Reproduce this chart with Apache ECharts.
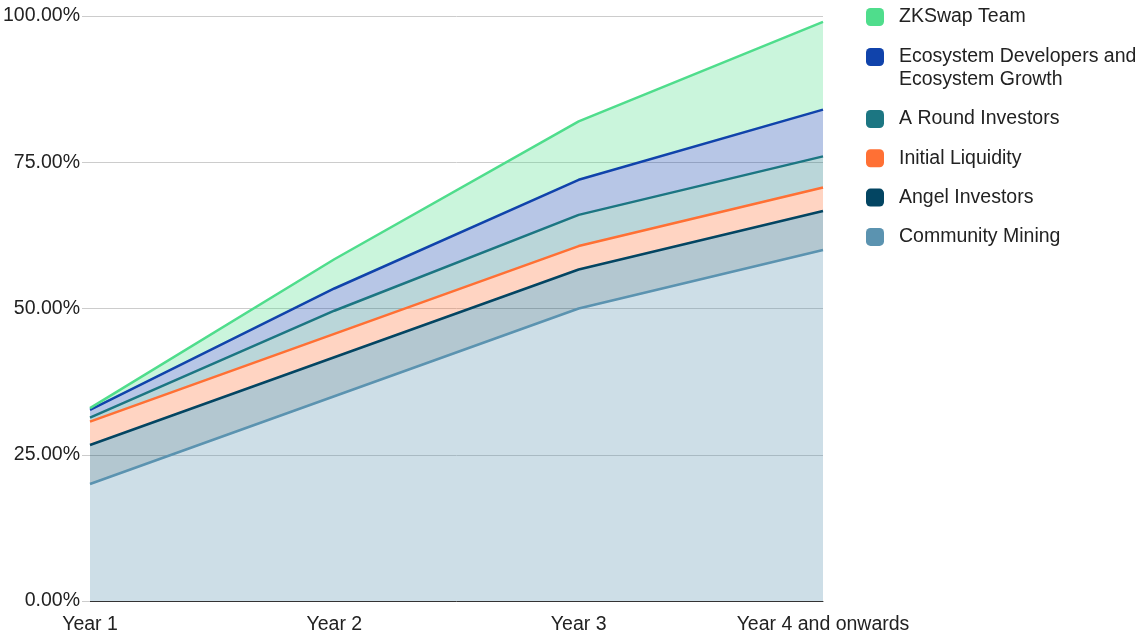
<!DOCTYPE html>
<html>
<head>
<meta charset="utf-8">
<script src="https://cdn.jsdelivr.net/npm/echarts@6/dist/echarts.min.js"></script>
<style>html,body{margin:0;padding:0;background:#fff}#c{width:1135px;height:630px}</style>
</head>
<body>
<div id="c"></div>
<script>
var categories = ['Year 1', 'Year 2', 'Year 3', 'Year 4 and onwards'];
var communityMining = [20, 35, 50, 60];
var angelInvestors = [6.67, 6.67, 6.67, 6.67];
var initialLiquidity = [4, 4, 4, 4];
var aRoundInvestors = [0.67, 3.95, 5.33, 5.33];
var ecosystem = [1.33, 3.8, 6, 8];
var zkswapTeam = [0.3, 5, 10, 15];
var yTicks = [0, 25, 50, 75, 100];

var ECO = 'Ecosystem Developers and Ecosystem Growth';
var font = 'Liberation Sans, Arial, sans-serif';
var FS = 19.5;

function mk(name, data, color) {
  return {
    name: name, type: 'line', stack: 'total', data: data,
    showSymbol: false, symbol: 'none',
    lineStyle: { color: color, width: 2.5 },
    itemStyle: { color: color },
    areaStyle: { color: color, opacity: 0.3 }
  };
}

var chart = echarts.init(document.getElementById('c'), null, { renderer: 'canvas' });
chart.setOption({
  animation: false,
  textStyle: { fontFamily: font },
  grid: { left: 90, right: 312, top: 16, bottom: 29, containLabel: false, outerBoundsMode: 'none' },
  xAxis: {
    type: 'category', data: categories, boundaryGap: false,
    axisLine: { lineStyle: { color: '#333', width: 1 } },
    axisTick: { show: false },
    axisLabel: { color: '#222', fontSize: FS, margin: 14, fontFamily: font }
  },
  yAxis: {
    type: 'value', min: yTicks[0], max: yTicks[yTicks.length - 1], interval: 25,
    axisLine: { show: false },
    axisTick: { show: true, length: 8, lineStyle: { color: '#ccc' } },
    splitLine: { lineStyle: { color: '#ccc' } },
    axisLabel: { color: '#222', fontSize: FS, margin: 10, fontFamily: font,
      formatter: function (v) { return v.toFixed(2) + '%'; } }
  },
  legend: [{
    orient: 'vertical', left: 866, top: 6, padding: 0, itemWidth: 18, itemHeight: 18, itemGap: 18,
    icon: 'roundRect',
    data: ['ZKSwap Team', ECO],
    formatter: function (n) { return n === ECO ? 'Ecosystem Developers and' : n; },
    textStyle: { color: '#222', fontSize: FS, lineHeight: 22, padding: [0, 0, 0, 10], fontFamily: font }
  }, {
    orient: 'vertical', left: 866, top: 108, padding: 0, itemWidth: 18, itemHeight: 18, itemGap: 17.3,
    icon: 'roundRect',
    data: ['A Round Investors', 'Initial Liquidity', 'Angel Investors', 'Community Mining'],
    textStyle: { color: '#222', fontSize: FS, lineHeight: 22, padding: [0, 0, 0, 10], fontFamily: font }
  }],
  graphic: [{
    type: 'text', left: 899, top: 70,
    style: { text: 'Ecosystem Growth', fill: '#222', font: FS + 'px ' + font }
  }],
  series: [
    mk('Community Mining', communityMining, '#5b93b0'),
    mk('Angel Investors', angelInvestors, '#034562'),
    mk('Initial Liquidity', initialLiquidity, '#ff7034'),
    mk('A Round Investors', aRoundInvestors, '#1c7682'),
    mk(ECO, ecosystem, '#1043ab'),
    mk('ZKSwap Team', zkswapTeam, '#4fdd8c')
  ]
});
</script>
</body>
</html>
